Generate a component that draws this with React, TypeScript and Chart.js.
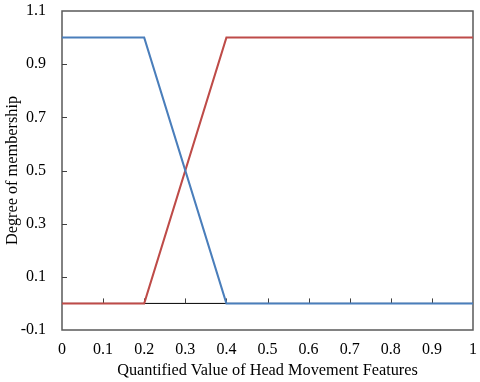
import React, { useEffect, useRef } from "react";
import { Chart, registerables } from "chart.js";

Chart.register(...registerables);

const xPoints = [0, 0.2, 0.4, 1];
const lowSeries = [1, 1, 0, 0];
const highSeries = [0, 0, 1, 1];
const xTicks = [0, 0.1, 0.2, 0.3, 0.4, 0.5, 0.6, 0.7, 0.8, 0.9, 1];
const yTicks = [-0.1, 0.1, 0.3, 0.5, 0.7, 0.9, 1.1];
const xTickMarks = [0.1, 0.2, 0.3, 0.4, 0.5, 0.6, 0.7, 0.8, 0.9];
const yTickMarks = [0.1, 0.3, 0.5, 0.7, 0.9];

const FONT = "'Liberation Serif', 'Times New Roman', serif";

const framePlugin = {
  id: "frame",
  beforeDatasetsDraw(chart: any) {
    const { ctx, chartArea, scales } = chart;
    const xs = scales.x;
    const ys = scales.y;
    ctx.save();
    ctx.strokeStyle = "#595959";
    ctx.lineWidth = 1.5;
    ctx.strokeRect(chartArea.left, chartArea.top, chartArea.right - chartArea.left, chartArea.bottom - chartArea.top);
    const y0 = ys.getPixelForValue(0);
    ctx.strokeStyle = "#000000";
    ctx.lineWidth = 1;
    ctx.beginPath();
    ctx.moveTo(chartArea.left, y0);
    ctx.lineTo(chartArea.right, y0);
    ctx.stroke();
    ctx.strokeStyle = "#404040";
    ctx.beginPath();
    for (const v of xTickMarks) {
      const px = Math.round(xs.getPixelForValue(v)) + 0.5;
      ctx.moveTo(px, y0);
      ctx.lineTo(px, y0 - 5);
    }
    for (const v of yTickMarks) {
      const py = Math.round(ys.getPixelForValue(v)) + 0.5;
      ctx.moveTo(chartArea.left, py);
      ctx.lineTo(chartArea.left + 5, py);
    }
    ctx.stroke();
    ctx.restore();
  },
};

const zeroPad = (s: any) => {
  s.paddingTop = 0;
  s.paddingBottom = 0;
  s.paddingLeft = 0;
  s.paddingRight = 0;
};

export default function App() {
  const ref = useRef<HTMLCanvasElement | null>(null);
  useEffect(() => {
    if (!ref.current) return;
    const chart = new Chart(ref.current, {
      type: "line",
      data: {
        datasets: [
          {
            data: xPoints.map((x, i) => ({ x, y: lowSeries[i] })),
            borderColor: "#4A7EBB",
            borderWidth: 2,
            pointRadius: 0,
            tension: 0,
          },
          {
            data: xPoints.map((x, i) => ({ x, y: highSeries[i] })),
            borderColor: "#BE4B48",
            borderWidth: 2,
            pointRadius: 0,
            tension: 0,
          },
        ],
      },
      options: {
        animation: false,
        responsive: false,
        maintainAspectRatio: false,
        layout: { padding: { left: 0, top: 11, right: 7, bottom: 0 } },
        plugins: { legend: { display: false }, tooltip: { enabled: false } },
        scales: {
          x: {
            type: "linear",
            min: 0,
            max: 1,
            grid: { display: false, drawTicks: false },
            border: { display: false },
            afterBuildTicks: (s: any) => {
              s.ticks = xTicks.map((v) => ({ value: v }));
            },
            afterFit: (s: any) => {
              s.height = 52;
              zeroPad(s);
            },
            ticks: {
              color: "#000",
              padding: 10,
              maxRotation: 0,
              autoSkip: false,
              font: { family: FONT, size: 16 },
              callback: (v: any) => String(Math.round(Number(v) * 10) / 10),
            },
            title: {
              display: true,
              text: "Quantified Value of Head Movement Features",
              color: "#000",
              font: { family: FONT, size: 16.3 },
              padding: { top: 0, bottom: 1 },
            },
          },
          y: {
            type: "linear",
            min: -0.1,
            max: 1.1,
            grid: { display: false, drawTicks: false },
            border: { display: false },
            afterBuildTicks: (s: any) => {
              s.ticks = yTicks.map((v) => ({ value: v }));
            },
            afterFit: (s: any) => {
              s.width = 62;
              zeroPad(s);
            },
            ticks: {
              color: "#000",
              padding: 16,
              autoSkip: false,
              font: { family: FONT, size: 16 },
              callback: (v: any) => String(Math.round(Number(v) * 10) / 10),
            },
            title: {
              display: true,
              text: "Degree of membership",
              color: "#000",
              font: { family: FONT, size: 16.3 },
              padding: { top: 3, bottom: 0 },
            },
          },
        },
      },
      plugins: [framePlugin],
    });
    return () => chart.destroy();
  }, []);
  return (
    <div style={{ position: "fixed", left: 0, top: 0, width: 480, height: 382, background: "#fff" }}>
      <canvas ref={ref} width={480} height={382} />
    </div>
  );
}
